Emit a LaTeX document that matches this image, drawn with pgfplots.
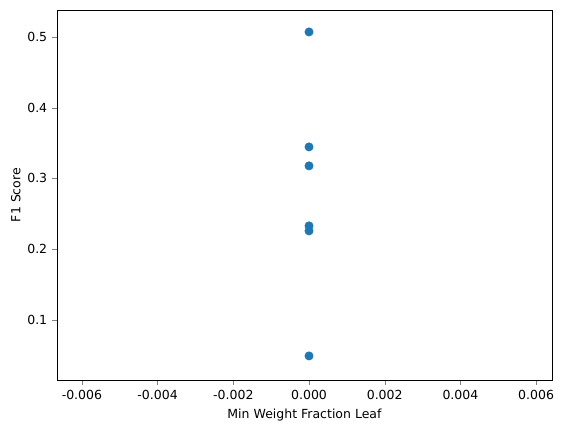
\documentclass[border=0pt]{standalone}
\usepackage{pgfplots}
\pgfplotsset{compat=1.18}
\usepackage{fontspec}
\setmainfont{DejaVu Sans}
\definecolor{c1}{HTML}{1F77B4}
\begin{document}
\begin{tikzpicture}
\path[use as bounding box] (-41pt,-37.4pt) rectangle (367.2pt,273.6pt);
\begin{axis}[
  at={(0,0)}, anchor=south west,
  width=356.4pt, height=266.4pt, scale only axis,
  xmin=-0.00666, xmax=0.00642, ymin=0.015, ymax=0.538,
  xtick={-0.006,-0.004,-0.002,0,0.002,0.004,0.006},
  ytick={0.1,0.2,0.3,0.4,0.5},
  /pgf/number format/assume math mode=true,
  xticklabel style={/pgf/number format/.cd,fixed,fixed zerofill,precision=3},
  yticklabel style={/pgf/number format/.cd,fixed,fixed zerofill,precision=1},
  scaled x ticks=false,
  tick label style={font=\fontsize{9}{11}\selectfont},
  label style={font=\fontsize{9}{11}\selectfont},
  ylabel style={yshift=-2pt},
  xlabel={Min Weight Fraction Leaf}, ylabel={F1 Score},
  tick align=outside, xtick pos=bottom, ytick pos=left,
  major tick length=3.5pt,
]
\addplot[only marks, mark=*, mark size=3pt, color=c1] coordinates {
(0,0.507) (0,0.3445) (0,0.3177) (0,0.2329) (0,0.2258) (0,0.0491)};
\end{axis}
\end{tikzpicture}
\end{document}
